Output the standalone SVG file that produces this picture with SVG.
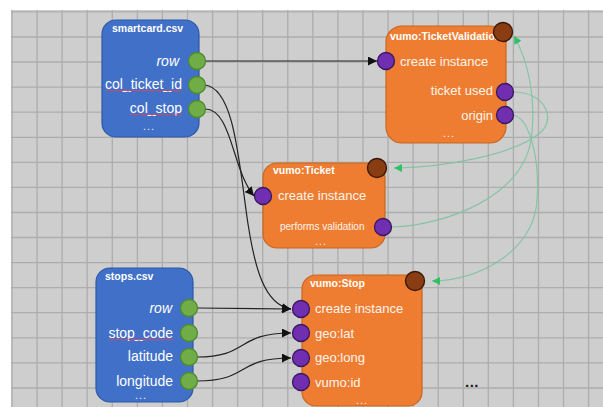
<svg xmlns="http://www.w3.org/2000/svg" width="603" height="407" viewBox="0 0 603 407">
  <defs>
    <marker id="arrowBlack" markerUnits="userSpaceOnUse" markerWidth="10" markerHeight="9" refX="9" refY="4.5" orient="auto">
      <path d="M0,0 L9,4.5 L0,9 z" fill="#111"/>
    </marker>
    <marker id="arrowGreen" markerUnits="userSpaceOnUse" markerWidth="9" markerHeight="8" refX="8" refY="4" orient="auto">
      <path d="M0,0 L8,4 L0,8 z" fill="#1fbf5a"/>
    </marker>
  </defs>
  <style>
    .grid { stroke: #adadad; stroke-width: 1.3; fill: none; }
    .csv { fill: #4170c8; stroke: #2c59a6; stroke-width: 1.2; }
    .cls { fill: #ee7d32; stroke: #c8661f; stroke-width: 1.2; }
    .in-port { fill: #6f2fb0; stroke: #3a175e; stroke-width: 1.3; }
    .out-port { fill: #70ad47; stroke: #4e8a2e; stroke-width: 1.3; }
    .self-port { fill: #8a3d12; stroke: #3b1a08; stroke-width: 1.4; }
    .title { font-family: "Liberation Sans", Arial, sans-serif; font-weight: bold; font-size: 10.5px; fill: #ffffff; }
    .field { font-family: "Liberation Sans", Arial, sans-serif; font-size: 14px; fill: #ffffff; }
    .ofield { font-family: "Liberation Sans", Arial, sans-serif; font-size: 13px; fill: #fff4ea; }
    .small { font-family: "Liberation Sans", Arial, sans-serif; font-size: 10px; fill: #fff4ea; }
    .dots { font-family: "Liberation Sans", Arial, sans-serif; font-size: 11px; fill: #f2f2f2; letter-spacing: 1px; }
    .spell { stroke: #e0475a; stroke-width: 0.9; fill: none; }
    .link { stroke: #222; stroke-width: 1.2; fill: none; marker-end: url(#arrowBlack); }
    .ref { stroke: #7fc4a2; stroke-width: 1.2; fill: none; opacity: 0.9; marker-end: url(#arrowGreen); }
  </style>

  <!-- canvas with grid -->
  <rect x="0" y="0" width="603" height="407" fill="#ffffff"/>
  <rect x="11" y="10" width="592" height="397" fill="#cecece"/>
  <path class="grid" d="M12,10V407 M37.1,10V407 M62.1,10V407 M87.2,10V407 M112.3,10V407 M137.4,10V407 M162.4,10V407 M187.5,10V407 M212.6,10V407 M237.6,10V407 M262.7,10V407 M287.8,10V407 M312.8,10V407 M337.9,10V407 M363,10V407 M388.1,10V407 M413.1,10V407 M438.2,10V407 M463.3,10V407 M488.3,10V407 M513.4,10V407 M538.5,10V407 M563.5,10V407 M588.6,10V407
    M11,11.9H603 M11,37H603 M11,62H603 M11,87.1H603 M11,112.2H603 M11,137.3H603 M11,162.3H603 M11,187.4H603 M11,212.5H603 M11,237.5H603 M11,262.6H603 M11,287.7H603 M11,312.7H603 M11,337.8H603 M11,362.9H603 M11,388H603"/>

  <!-- connectors -->
  <g id="connectors">
    <path class="link" d="M205,61 L377,61"/>
    <path class="link" d="M205,85 C232,88 238,150 246,210 S265,305 291,309"/>
    <path class="link" d="M205,109 C232,109 232,170 254,196"/>
    <path class="link" d="M197,308 L291,309"/>
    <path class="link" d="M197,357 C250,357 235,333 291,333"/>
    <path class="link" d="M197,381 C250,381 235,358 291,358"/>
    <path class="ref" d="M513,92 C545,92 556,118 541,132 C515,155 440,168 394,168"/>
    <path class="ref" d="M513,115 C530,118 540,160 537,200 C534,250 480,281 432,281"/>
    <path class="ref" d="M391,227 C450,225 522,195 531,140 C537,100 528,60 514,36"/>
  </g>

  <!-- smartcard.csv -->
  <g id="smartcard">
    <rect class="csv" x="102" y="20" width="97" height="117" rx="14"/>
    <text class="title" x="112" y="32">smartcard.csv</text>
    <text class="field" x="179" y="66" text-anchor="end" font-style="italic">row</text>
    <text class="field" x="182" y="89" text-anchor="end">col_ticket_id</text>
    <text class="field" x="182" y="113" text-anchor="end">col_stop</text>
    <path class="spell" d="M106,90.5 q2,-1.5 4,0 t4,0 t4,0 t4,0 t4,0 t4,0 t4,0 t4,0 t4,0 t4,0 t4,0 t4,0 t4,0 t4,0 t4,0 t4,0 t4,0 t4,0 t4,0"/>
    <path class="spell" d="M130,114.5 q2,-1.5 4,0 t4,0 t4,0 t4,0 t4,0 t4,0 t4,0 t4,0 t4,0 t4,0 t4,0 t4,0 t4,0"/>
    <text class="dots" x="143" y="130">...</text>
    <circle class="out-port" cx="197" cy="61" r="8.5"/>
    <circle class="out-port" cx="197" cy="85" r="8.5"/>
    <circle class="out-port" cx="197" cy="109" r="8.5"/>
  </g>

  <!-- vumo:TicketValidation -->
  <g id="ticket-validation">
    <rect class="cls" x="386" y="26" width="120" height="117" rx="16"/>
    <text class="title" x="390" y="40">vumo:TicketValidation</text>
    <text class="ofield" x="400" y="66">create instance</text>
    <text class="ofield" x="493" y="95" text-anchor="end">ticket used</text>
    <text class="ofield" x="493" y="120" text-anchor="end">origin</text>
    <text class="dots" x="443" y="137">...</text>
    <circle class="in-port" cx="386" cy="61" r="8.5"/>
    <circle class="in-port" cx="505" cy="92" r="8.5"/>
    <circle class="in-port" cx="505" cy="115" r="8.5"/>
    <circle class="self-port" cx="503" cy="32" r="9.5"/>
  </g>

  <!-- vumo:Ticket -->
  <g id="ticket">
    <rect class="cls" x="263" y="163" width="122" height="85" rx="14"/>
    <text class="title" x="273" y="174">vumo:Ticket</text>
    <text class="ofield" x="278" y="200">create instance</text>
    <text class="small" x="280" y="230">performs validation</text>
    <text class="dots" x="315" y="245">...</text>
    <circle class="in-port" cx="263" cy="196" r="8.5"/>
    <circle class="in-port" cx="383" cy="227" r="8.5"/>
    <circle class="self-port" cx="377" cy="168" r="9.5"/>
  </g>

  <!-- stops.csv -->
  <g id="stops">
    <rect class="csv" x="96" y="268" width="97" height="134" rx="14"/>
    <text class="title" x="105" y="280">stops.csv</text>
    <text class="field" x="172" y="313" text-anchor="end" font-style="italic">row</text>
    <text class="field" x="173" y="338" text-anchor="end">stop_code</text>
    <text class="field" x="173" y="361" text-anchor="end">latitude</text>
    <text class="field" x="173" y="386" text-anchor="end">longitude</text>
    <path class="spell" d="M109,339.5 q2,-1.5 4,0 t4,0 t4,0 t4,0 t4,0 t4,0 t4,0 t4,0 t4,0 t4,0 t4,0 t4,0 t4,0 t4,0 t4,0 t4,0"/>
    <text class="dots" x="135" y="399">...</text>
    <circle class="out-port" cx="189" cy="308" r="8.5"/>
    <circle class="out-port" cx="189" cy="333" r="8.5"/>
    <circle class="out-port" cx="189" cy="357" r="8.5"/>
    <circle class="out-port" cx="189" cy="381" r="8.5"/>
  </g>

  <!-- vumo:Stop -->
  <g id="stop">
    <rect class="cls" x="302" y="275" width="120" height="131" rx="14"/>
    <text class="title" x="310" y="287">vumo:Stop</text>
    <text class="ofield" x="315" y="313">create instance</text>
    <text class="ofield" x="315" y="338">geo:lat</text>
    <text class="ofield" x="315" y="362">geo:long</text>
    <text class="ofield" x="315" y="387">vumo:id</text>
    <text class="dots" x="356" y="404">...</text>
    <circle class="in-port" cx="301" cy="309" r="8.5"/>
    <circle class="in-port" cx="301" cy="333" r="8.5"/>
    <circle class="in-port" cx="301" cy="358" r="8.5"/>
    <circle class="in-port" cx="301" cy="382" r="8.5"/>
    <circle class="self-port" cx="415" cy="281" r="9.5"/>
  </g>

  <!-- more classes follow -->
  <g id="more">
    <text x="465" y="387" font-family="Liberation Sans, Arial, sans-serif" font-size="15px" font-weight="bold" fill="#1a1a1a" letter-spacing="0.5">...</text>
  </g>
</svg>
